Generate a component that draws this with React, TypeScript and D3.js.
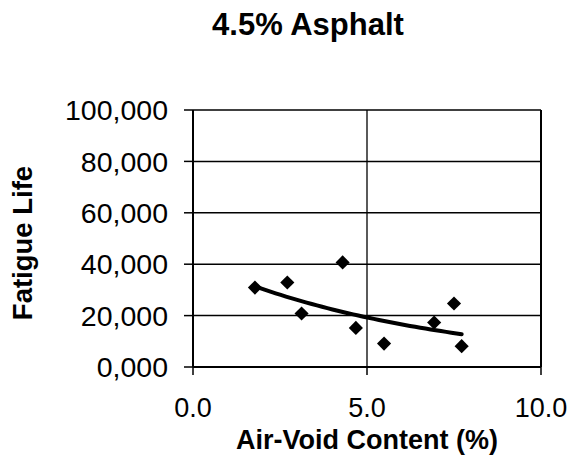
import React from "react";
import * as d3 from "d3";

const airVoid = [1.78, 2.71, 3.12, 4.3, 4.68, 5.49, 6.93, 7.5, 7.72];
const fatigueLife = [30900, 32900, 20800, 40700, 15200, 9100, 17300, 24700, 8100];
const xTicks = [0, 5, 10];
const xTickLabels = ["0.0", "5.0", "10.0"];
const yTicks = [0, 20000, 40000, 60000, 80000, 100000];
const yTickLabels = ["0,000", "20,000", "40,000", "60,000", "80,000", "100,000"];
const xGridValues = [5];
const titleText = "4.5% Asphalt";
const xTitleText = "Air-Void Content (%)";
const yTitleText = "Fatigue Life";

const W = 584;
const H = 476;
const plot = { left: 193, right: 541, top: 110, bottom: 367 };
const FONT = "'Liberation Sans', Arial, Helvetica, sans-serif";

function expFit(xs: number[], ys: number[]) {
  const ly = ys.map((v) => Math.log(v));
  const mx = d3.mean(xs)!;
  const my = d3.mean(ly)!;
  let sxy = 0;
  let sxx = 0;
  xs.forEach((x, i) => {
    sxy += (x - mx) * (ly[i] - my);
    sxx += (x - mx) * (x - mx);
  });
  const b = sxy / sxx;
  const a = my - b * mx;
  return (x: number) => Math.exp(a + b * x);
}

export default function App() {
  const x = d3.scaleLinear().domain([0, 10]).range([plot.left, plot.right]);
  const y = d3.scaleLinear().domain([0, 100000]).range([plot.bottom, plot.top]);
  const points = airVoid.map((v, i) => ({ x: v, y: fatigueLife[i] }));
  const fit = expFit(airVoid, fatigueLife);
  const [xmin, xmax] = d3.extent(airVoid) as [number, number];
  const trend = d3.range(0, 41).map((i) => {
    const xv = xmin + ((xmax - xmin) * i) / 40;
    return [xv, fit(xv)] as [number, number];
  });
  const line = d3
    .line<[number, number]>()
    .x((d) => x(d[0]))
    .y((d) => y(d[1]))
    .curve(d3.curveLinear);
  const diamond = d3.symbol().type(d3.symbolSquare).size(100)()!;

  return (
    <svg
      width={W}
      height={H}
      style={{ position: "absolute", left: 0, top: 0, background: "#fff" }}
      fontFamily={FONT}
    >
      <rect x={0} y={0} width={W} height={H} fill="#fff" />
      <text x={308} y={35} textAnchor="middle" fontSize={31} fontWeight="bold" fill="#000">
        {titleText}
      </text>

      {/* horizontal gridlines */}
      {yTicks.map((t) => (
        <line key={"hg" + t} x1={plot.left} x2={plot.right} y1={y(t)} y2={y(t)} stroke="#000" strokeWidth={1.5} />
      ))}
      {xGridValues.map((t) => (
        <line key={"vg" + t} x1={x(t)} x2={x(t)} y1={plot.top} y2={plot.bottom} stroke="#000" strokeWidth={1.3} />
      ))}
      {/* frame */}
      <line x1={plot.left} x2={plot.left} y1={plot.top} y2={plot.bottom} stroke="#000" strokeWidth={2} />
      <line x1={plot.right} x2={plot.right} y1={plot.top} y2={plot.bottom} stroke="#000" strokeWidth={2} />
      <line x1={plot.left} x2={plot.right} y1={plot.bottom} y2={plot.bottom} stroke="#000" strokeWidth={2} />

      {/* y ticks */}
      {yTicks.map((t, i) => (
        <g key={"yt" + t}>
          <line x1={plot.left - 9} x2={plot.left} y1={y(t)} y2={y(t)} stroke="#000" strokeWidth={1.5} />
          <text x={168} y={y(t)} dy="0.36em" textAnchor="end" fontSize={28.5} fill="#000">
            {yTickLabels[i]}
          </text>
        </g>
      ))}
      {/* x ticks */}
      {xTicks.map((t, i) => (
        <g key={"xt" + t}>
          <line x1={x(t)} x2={x(t)} y1={plot.bottom} y2={plot.bottom + 8} stroke="#000" strokeWidth={1.5} />
          <text x={x(t)} y={417} textAnchor="middle" fontSize={27} fill="#000">
            {xTickLabels[i]}
          </text>
        </g>
      ))}

      {/* axis titles */}
      <text x={(plot.left + plot.right) / 2} y={449} textAnchor="middle" fontSize={27} fontWeight="bold" fill="#000">
        {xTitleText}
      </text>
      <text
        transform={`translate(32, 243) rotate(-90)`}
        textAnchor="middle"
        fontSize={27.5}
        fontWeight="bold"
        fill="#000"
      >
        {yTitleText}
      </text>

      {/* data points */}
      {points.map((p, i) => (
        <path key={"pt" + i} d={diamond} transform={`translate(${x(p.x)},${y(p.y)}) rotate(45)`} fill="#000" />
      ))}

      {/* trendline */}
      <path d={line(trend)!} fill="none" stroke="#000" strokeWidth={4} strokeLinecap="round" />
    </svg>
  );
}
